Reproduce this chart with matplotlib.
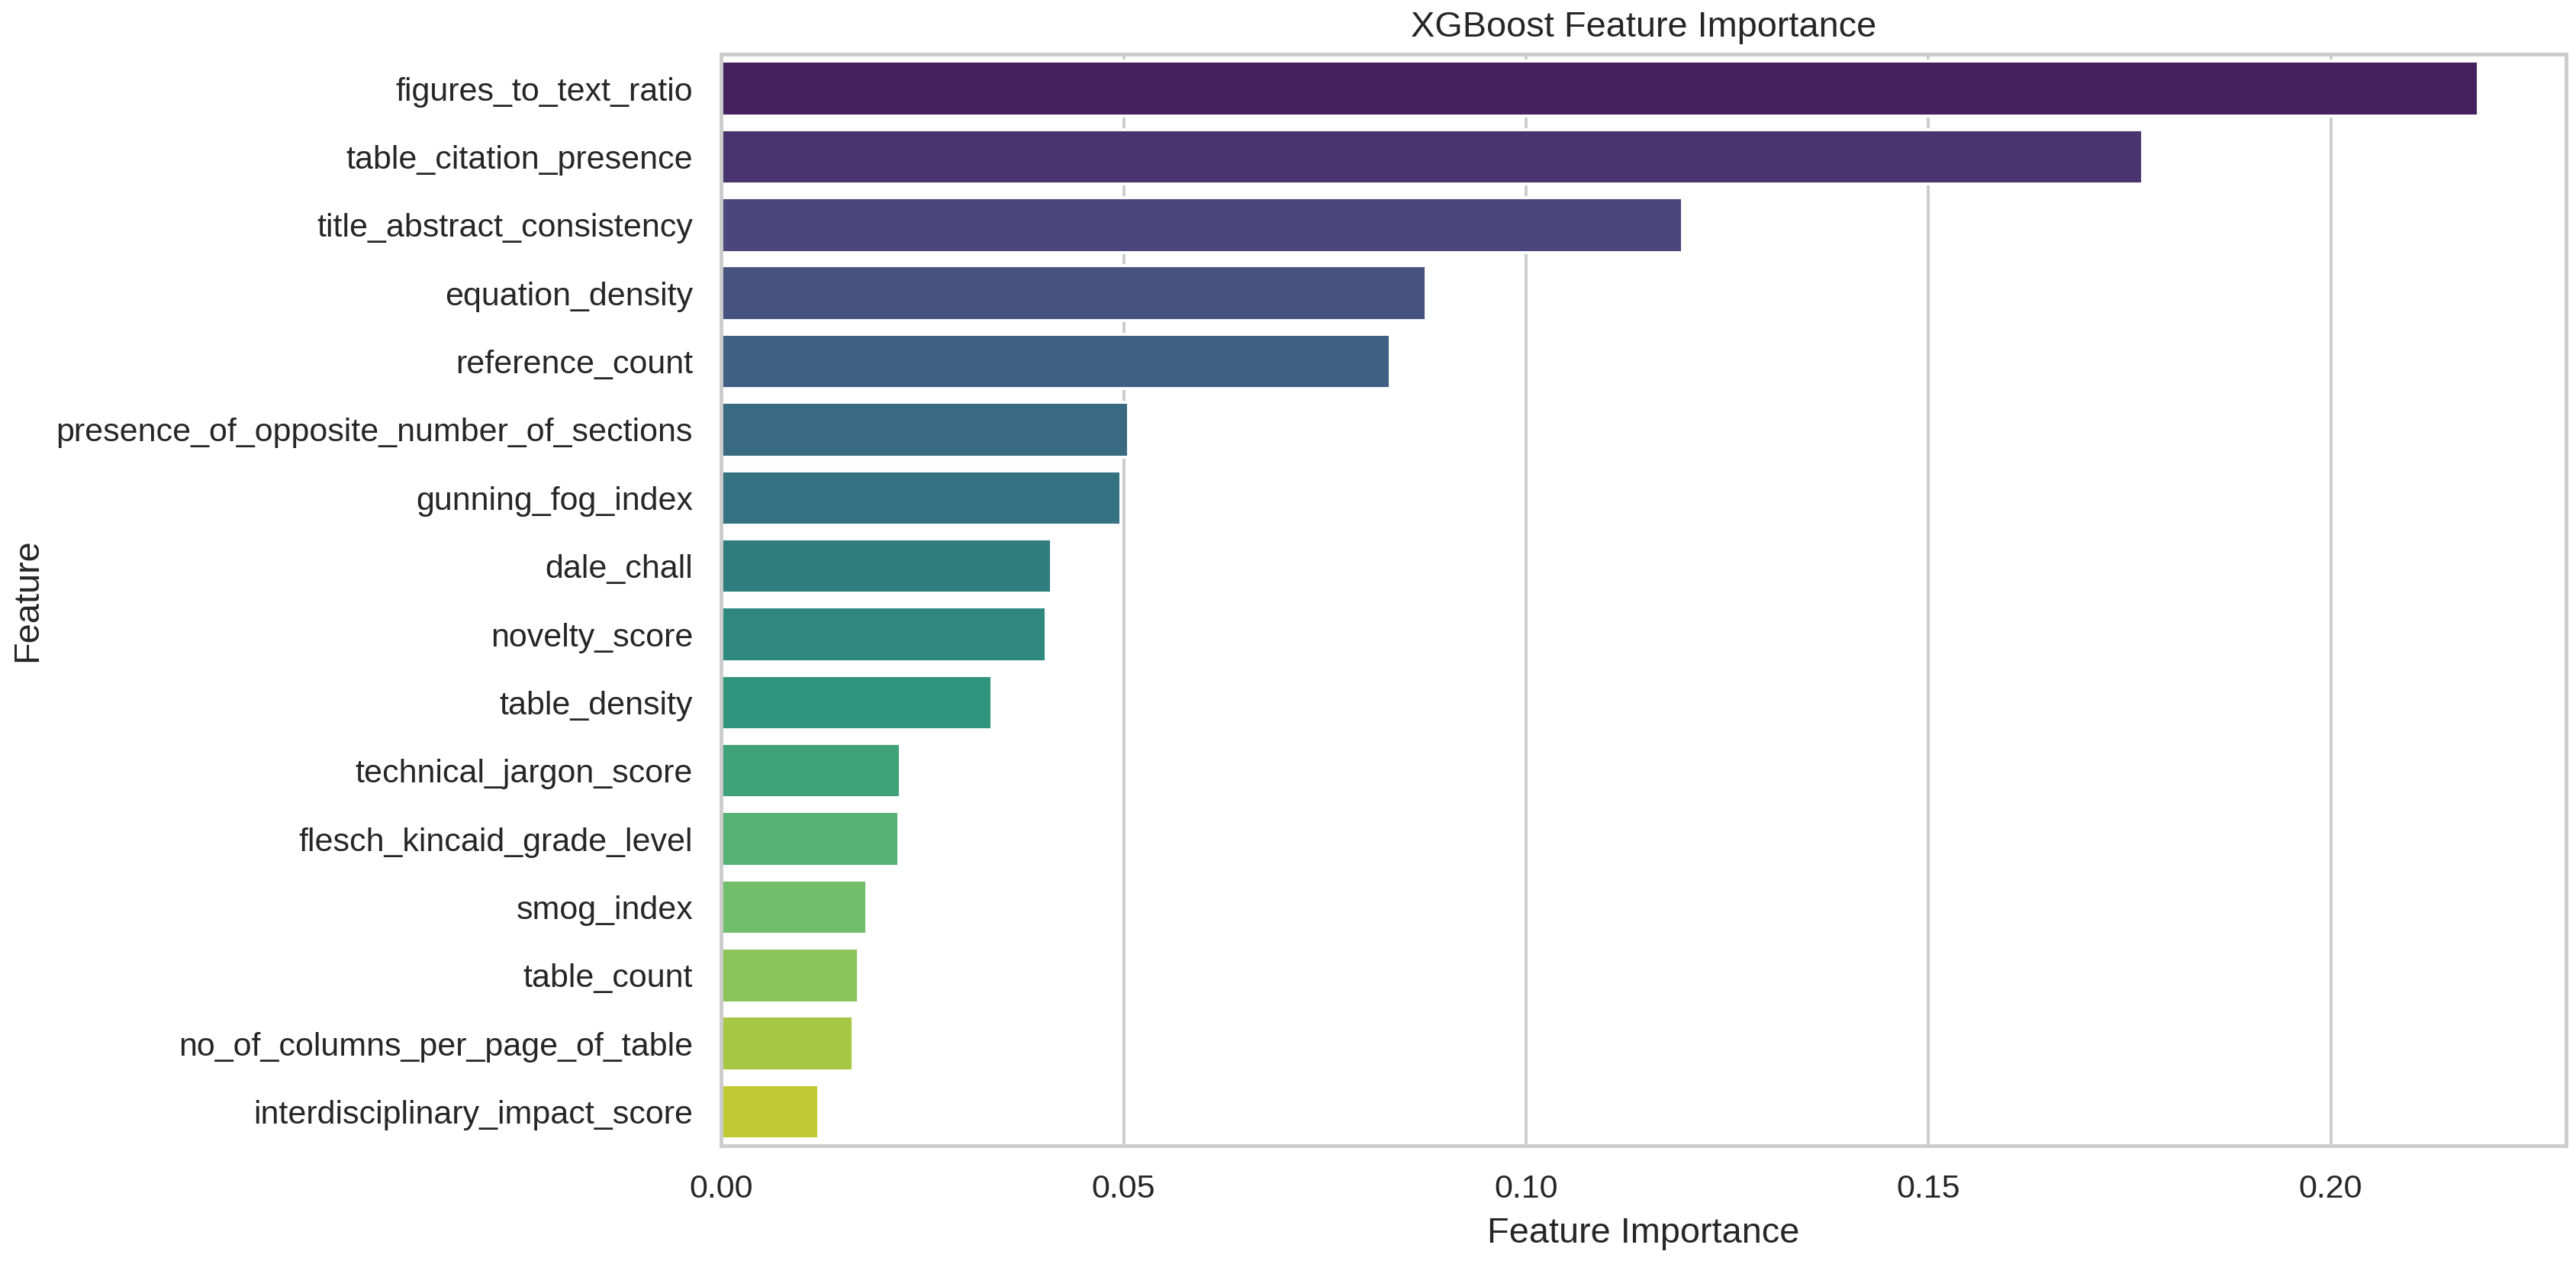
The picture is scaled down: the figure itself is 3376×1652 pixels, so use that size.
import matplotlib
matplotlib.use("Agg")
import matplotlib.pyplot as plt
import seaborn as sns
import pandas as pd

features = ["figures_to_text_ratio","table_citation_presence","title_abstract_consistency",
 "equation_density","reference_count","presence_of_opposite_number_of_sections",
 "gunning_fog_index","dale_chall","novelty_score","table_density","technical_jargon_score",
 "flesch_kincaid_grade_level","smog_index","table_count","no_of_columns_per_page_of_table",
 "interdisciplinary_impact_score"]
importance = [0.2183,0.1766,0.1194,0.0876,0.0831,0.0506,0.0497,0.0410,0.0404,0.0336,
 0.0223,0.0221,0.0181,0.0170,0.0164,0.0121]

sns.set_theme(style="whitegrid")
plt.rcParams['font.family'] = ['Liberation Sans', 'DejaVu Sans']
df = pd.DataFrame({"Feature": features, "Feature Importance": importance})
fig, ax = plt.subplots(figsize=(12, 5.871), dpi=281.4)
sns.barplot(data=df, x="Feature Importance", y="Feature", hue="Feature",
            palette="viridis", legend=False, ax=ax)
ax.set_title("XGBoost Feature Importance")
fig.tight_layout(pad=0.3)
fig.savefig("out.png", dpi=281.4)
